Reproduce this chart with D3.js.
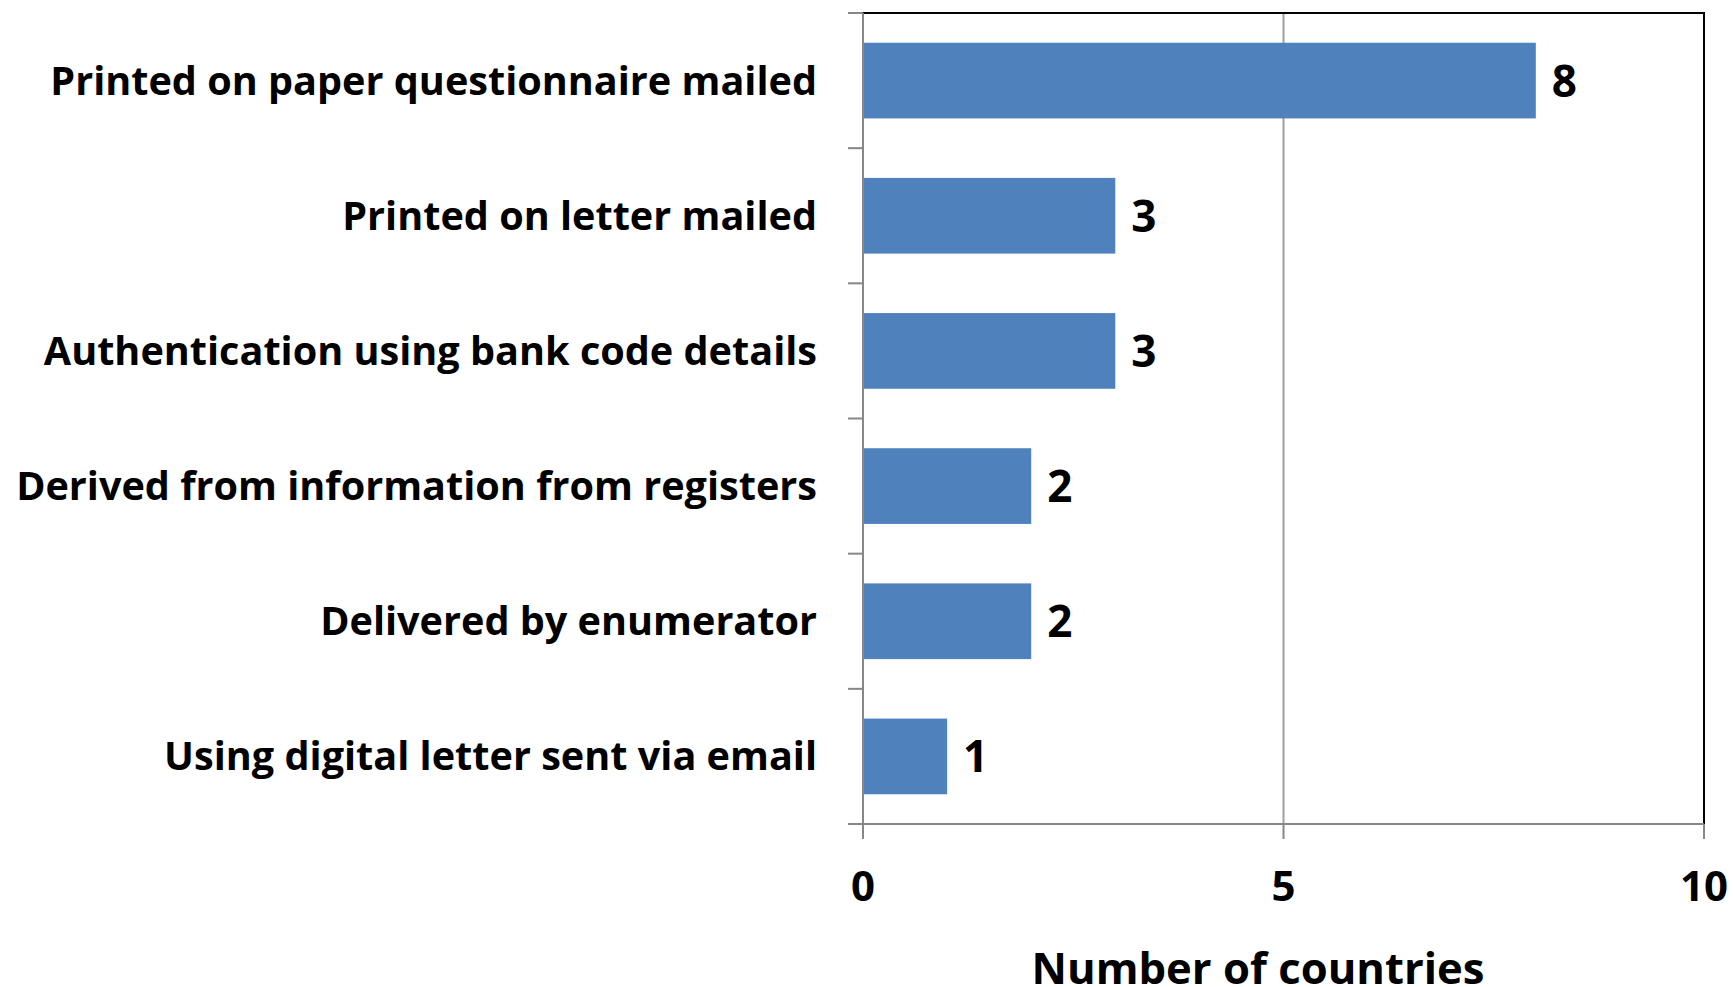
<!DOCTYPE html>
<html><head><meta charset="utf-8">
<script src="https://cdn.jsdelivr.net/npm/d3@7"></script>
<style>body{margin:0;background:#fff}svg{display:block}text{font-family:"Open Sans",Lato,sans-serif;font-weight:700;fill:#000}</style>
</head><body><svg id="c" width="1733" height="987"></svg>
<script>
const categories = [
  "Printed on paper questionnaire mailed",
  "Printed on letter mailed",
  "Authentication using bank code details",
  "Derived from information from registers",
  "Delivered by enumerator",
  "Using digital letter sent via email"
];
const values = [8, 3, 3, 2, 2, 1];
const xTicks = [0, 5, 10];
const axisTitle = "Number of countries";

const L = 863, R = 1704, T = 13, B = 824;
const svg = d3.select("#c");
const x = d3.scaleLinear().domain([0, 10]).range([L, R]);
const y = d3.scaleBand().domain(categories).range([T, B]).paddingInner(0.44).paddingOuter(0.22);
const step = y.step();

svg.selectAll(".grid").data(xTicks.filter(d => d > 0 && d < 10)).enter().append("line")
  .attr("x1", d => x(d)).attr("x2", d => x(d)).attr("y1", T).attr("y2", B)
  .attr("stroke", "#a0a0a0").attr("stroke-width", 2);

svg.selectAll(".bar").data(values).enter().append("rect")
  .attr("x", x(0)).attr("y", (d, i) => y(categories[i]))
  .attr("width", d => x(d) - x(0)).attr("height", y.bandwidth())
  .attr("fill", "#4f81bd");

svg.append("path").attr("d", `M${L},${T}H${R}V${B}`).attr("fill", "none").attr("stroke", "#000").attr("stroke-width", 2);

const axisColor = "#878787";
svg.append("line").attr("x1", L).attr("x2", L).attr("y1", T).attr("y2", B + 15).attr("stroke", axisColor).attr("stroke-width", 2);
svg.append("line").attr("x1", L - 15).attr("x2", R).attr("y1", B).attr("y2", B).attr("stroke", axisColor).attr("stroke-width", 2);
const bounds = categories.map(c => y(c) - step * y.paddingInner() / 2).concat([B]);
svg.selectAll(".ytick").data(bounds).enter().append("line")
  .attr("x1", L - 15).attr("x2", L).attr("y1", d => d).attr("y2", d => d)
  .attr("stroke", axisColor).attr("stroke-width", 2);
svg.selectAll(".xtick").data(xTicks).enter().append("line")
  .attr("x1", d => x(d)).attr("x2", d => x(d)).attr("y1", B).attr("y2", B + 15)
  .attr("stroke", axisColor).attr("stroke-width", 2);

// category labels, size fitted so the longest spans ~801px
const cats = svg.selectAll(".cat").data(categories).enter().append("text")
  .attr("x", 817).attr("y", d => y(d) + y.bandwidth() / 2 + 14)
  .attr("text-anchor", "end").attr("font-size", 40).text(d => d);
const maxW = d3.max(cats.nodes(), n => n.getComputedTextLength());
cats.attr("font-size", 40 * 801 / maxW);

svg.selectAll(".val").data(values).enter().append("text")
  .attr("x", d => x(d) + 16).attr("y", (d, i) => y(categories[i]) + y.bandwidth() / 2 + 16)
  .attr("font-size", 44).text(d => d);

svg.selectAll(".xl").data(xTicks).enter().append("text")
  .attr("x", d => x(d)).attr("y", 901).attr("text-anchor", "middle")
  .attr("font-size", 42).text(d => d);

const title = svg.append("text").attr("x", 1258).attr("y", 984).attr("text-anchor", "middle")
  .attr("font-size", 46).text(axisTitle);
const tw = title.node().getComputedTextLength();
title.attr("font-size", 46 * 453 / tw);
</script></body></html>
